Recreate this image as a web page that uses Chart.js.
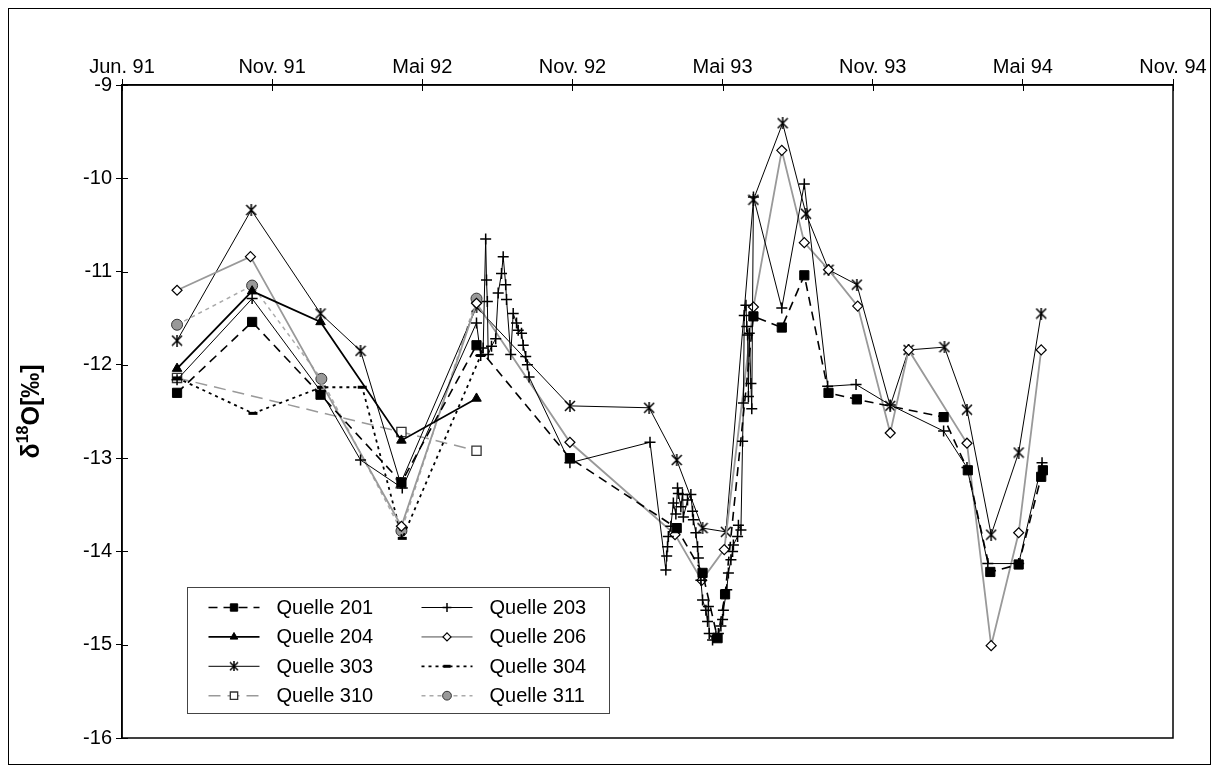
<!DOCTYPE html>
<html>
<head>
<meta charset="utf-8">
<script src="https://cdn.jsdelivr.net/npm/chart.js@4.4.1/dist/chart.umd.min.js"></script>
<style>
  html, body { margin: 0; padding: 0; background: #fff; }
  #wrap { width: 1219px; height: 773px; }
</style>
</head>
<body>
<div id="wrap"><canvas id="isoChart" width="1219" height="773"></canvas></div>
<script>
// --- x-Achse: Tage seit 1. Juni 1991, Teilung alle 180 Tage ---
const xTickLabels = ['Jun. 91', 'Nov. 91', 'Mai 92', 'Nov. 92', 'Mai 93', 'Nov. 93', 'Mai 94', 'Nov. 94'];
const yTicks = [-16, -15, -14, -13, -12, -11, -10, -9];

// --- Quelle 201 ---
const q201Days = [66, 156, 238, 335, 425, 537, 665, 696, 714, 723, 757, 791, 818, 847, 881, 985, 1014, 1041, 1075, 1102, 1104];
const q201Values = [-12.30, -11.54, -12.32, -13.26, -11.79, -13.00, -13.75, -14.23, -14.93, -14.46, -11.48, -11.60, -11.04, -12.30, -12.37, -12.56, -13.13, -14.22, -14.14, -13.20, -13.13];

// --- Quelle 203 (dichte Beprobung) ---
const q203Days = [66, 156, 238, 286, 336, 425, 430, 433, 436, 437, 438, 439, 443, 448, 451, 455, 457, 460, 461, 466, 469, 473, 475, 479, 481, 484, 486, 488,
  537, 633, 652, 653, 654, 655, 658, 661, 664, 666, 667, 670, 672, 673, 678, 682, 684, 685, 688, 690, 691, 694, 696, 700, 702, 703, 704, 708, 712, 715, 718, 720, 721,
  725, 727, 730, 732, 733, 738, 739, 742, 744, 745, 746, 748, 749, 750, 751, 752, 754, 755, 757, 791, 818, 846, 880, 921, 985, 1013, 1038, 1075, 1103];
const q203Values = [-12.16, -11.29, -12.28, -13.02, -13.32, -11.55, -11.90, -11.82, -10.65, -11.09, -11.32, -11.89, -11.80, -11.72, -11.23, -11.02, -10.84, -11.14, -11.30, -11.89, -11.45, -11.55, -11.63, -11.66, -11.79, -11.91, -12.00, -12.13,
  -13.05, -12.83, -14.20, -14.05, -13.95, -13.84, -13.73, -13.48, -13.60, -13.32, -13.38, -13.52, -13.39, -13.63, -13.45, -13.39, -13.57, -13.66, -13.80, -13.95, -14.07, -14.31, -14.52, -14.63, -14.75, -14.59, -14.88, -14.95, -14.91, -14.88, -14.80, -14.73, -14.63,
  -14.41, -14.23, -14.09, -14.00, -13.93, -13.84, -13.72, -13.77, -12.82, -12.41, -11.47, -11.36, -11.59, -11.68, -12.34, -11.66, -12.20, -12.47, -10.20, -11.39, -10.06, -12.23, -12.21, -12.43, -12.71, -13.10, -14.13, -14.13, -13.05];

// --- Quelle 204 ---
const q204Days = [66, 156, 238, 335, 425];
const q204Values = [-12.04, -11.21, -11.54, -12.81, -12.36];

// --- Quelle 206 ---
const q206Days = [66, 154, 335, 425, 537, 663, 695, 722, 757, 791, 818, 847, 882, 921, 943, 1013, 1042, 1075, 1102];
const q206Values = [-11.20, -10.84, -13.73, -11.34, -12.83, -13.82, -14.31, -13.98, -11.38, -9.70, -10.69, -10.98, -11.37, -12.73, -11.84, -12.84, -15.01, -13.80, -11.84];

// --- Quelle 303 ---
const q303Days = [66, 155, 238, 286, 334, 425, 537, 632, 665, 696, 724, 757, 792, 820, 847, 881, 921, 943, 986, 1013, 1042, 1075, 1102];
const q303Values = [-11.74, -10.34, -11.45, -11.85, -13.27, -11.38, -12.44, -12.46, -13.02, -13.75, -13.79, -10.23, -9.41, -10.38, -10.98, -11.14, -12.44, -11.84, -11.81, -12.48, -13.82, -12.94, -11.45];

// --- Quelle 304 ---
const q304Days = [66, 157, 239, 288, 336, 430];
const q304Values = [-12.14, -12.52, -12.24, -12.24, -13.86, -11.90];

// --- Quelle 310 ---
const q310Days = [66, 335, 425];
const q310Values = [-12.14, -12.72, -12.92];

// --- Quelle 311 ---
const q311Days = [66, 156, 239, 335, 425];
const q311Values = [-11.57, -11.15, -12.15, -13.78, -11.29];

const toPoints = (days, values) => days.map((d, i) => ({ x: d, y: values[i] }));

const FONT = "'Liberation Sans', Arial, sans-serif";

// Excel-Stern: X mit senkrechtem Strich
function makeAsterisk(size) {
  const c = document.createElement('canvas');
  c.width = size; c.height = size;
  const g = c.getContext('2d');
  g.strokeStyle = '#000';
  g.lineWidth = 1.5;
  g.beginPath();
  g.moveTo(1, 1); g.lineTo(size - 1, size - 1);
  g.moveTo(size - 1, 1); g.lineTo(1, size - 1);
  g.moveTo(size / 2, 0); g.lineTo(size / 2, size);
  g.stroke();
  return c;
}
const asterisk = makeAsterisk(12);
const asteriskSmall = makeAsterisk(10);

// --- Achsenrahmen, Innenstriche, Titel, Legende ---
const framePlugin = {
  id: 'frame',
  beforeDatasetsDraw(chart) {
    const { ctx, chartArea: a, scales } = chart;
    ctx.save();
    ctx.strokeStyle = '#000';
    ctx.lineWidth = 1.5;
    ctx.strokeRect(a.left, a.top, a.right - a.left, a.bottom - a.top);
    ctx.lineWidth = 1;
    scales.y.ticks.forEach(t => {
      const y = Math.round(scales.y.getPixelForValue(t.value)) + 0.5;
      ctx.beginPath(); ctx.moveTo(a.left, y); ctx.lineTo(a.left + 6, y); ctx.stroke();
    });
    scales.x.ticks.forEach(t => {
      const x = Math.round(scales.x.getPixelForValue(t.value)) + 0.5;
      ctx.beginPath(); ctx.moveTo(x, a.top); ctx.lineTo(x, a.top + 6); ctx.stroke();
    });
    // aeusserer Rahmen
    ctx.lineWidth = 1;
    ctx.strokeRect(8.5, 8.5, chart.width - 17, chart.height - 17);
    ctx.restore();
  },
  afterDraw(chart) {
    const { ctx, chartArea: a } = chart;
    ctx.save();
    // y-Titel mit Hochzahl
    const cx = 32, cy = (a.top + a.bottom) / 2;
    ctx.translate(cx, cy);
    ctx.rotate(-Math.PI / 2);
    ctx.fillStyle = '#000';
    ctx.textBaseline = 'middle';
    const big = 'bold 25px ' + FONT, small = 'bold 16px ' + FONT;
    ctx.font = big; const w1 = ctx.measureText('δ').width; const w3 = ctx.measureText('O[‰]').width;
    ctx.font = small; const w2 = ctx.measureText('18').width;
    let x = -(w1 + w2 + w3) / 2;
    ctx.font = big; ctx.textAlign = 'left'; ctx.fillText('δ', x, 0); x += w1;
    ctx.font = small; ctx.fillText('18', x, -8); x += w2;
    ctx.font = big; ctx.fillText('O[‰]', x, 0);
    ctx.restore();

    // Legende, zweispaltig
    ctx.save();
    const lx = a.left + 65.5, ly = a.bottom - 150.5, lw = 422, lh = 126;
    ctx.fillStyle = '#fff';
    ctx.fillRect(lx, ly, lw, lh);
    ctx.strokeStyle = '#444';
    ctx.lineWidth = 1;
    ctx.strokeRect(lx, ly, lw, lh);
    ctx.font = '20px ' + FONT;
    ctx.textBaseline = 'middle';
    chart.data.datasets.forEach((ds, i) => {
      const col = i % 2, row = Math.floor(i / 2);
      const x0 = lx + 21 + col * 213, x1 = x0 + 51;
      const y = ly + 20 + row * 29.4;
      ctx.save();
      ctx.strokeStyle = ds.borderColor;
      ctx.lineWidth = ds.borderWidth;
      ctx.setLineDash(ds.borderDash || []);
      ctx.beginPath(); ctx.moveTo(x0, y); ctx.lineTo(x1, y); ctx.stroke();
      ctx.setLineDash([]);
      ctx.fillStyle = ds.pointBackgroundColor;
      ctx.strokeStyle = ds.pointBorderColor;
      ctx.lineWidth = ds.pointBorderWidth;
      const style = ds.pointStyle === asterisk ? asteriskSmall : ds.pointStyle;
      Chart.helpers.drawPoint(ctx, { pointStyle: style, radius: ds.pointRadius * 0.8, rotation: 0, borderWidth: ds.pointBorderWidth }, (x0 + x1) / 2, y);
      ctx.restore();
      ctx.fillStyle = '#000';
      ctx.textAlign = 'left';
      ctx.fillText(ds.label, x1 + 17, y + 1);
    });
    ctx.restore();
  }
};

const ctx = document.getElementById('isoChart').getContext('2d');

new Chart(ctx, {
  type: 'line',
  data: {
    datasets: [
      {
        label: 'Quelle 201',
        data: toPoints(q201Days, q201Values),
        borderColor: '#000', borderWidth: 1.6, borderDash: [9, 6],
        pointStyle: 'rect', pointRadius: 6.5, pointBackgroundColor: '#000', pointBorderColor: '#000', pointBorderWidth: 1
      },
      {
        label: 'Quelle 203',
        data: toPoints(q203Days, q203Values),
        borderColor: '#000', borderWidth: 1,
        pointStyle: 'cross', pointRadius: 5.5, pointBackgroundColor: '#000', pointBorderColor: '#000', pointBorderWidth: 1.5
      },
      {
        label: 'Quelle 204',
        data: toPoints(q204Days, q204Values),
        borderColor: '#000', borderWidth: 1.8,
        pointStyle: 'triangle', pointRadius: 5.5, pointBackgroundColor: '#000', pointBorderColor: '#000', pointBorderWidth: 1
      },
      {
        label: 'Quelle 206',
        data: toPoints(q206Days, q206Values),
        borderColor: '#999', borderWidth: 1.8,
        pointStyle: 'rectRot', pointRadius: 5, pointBackgroundColor: '#fff', pointBorderColor: '#000', pointBorderWidth: 1.2
      },
      {
        label: 'Quelle 303',
        data: toPoints(q303Days, q303Values),
        borderColor: '#000', borderWidth: 1,
        pointStyle: asterisk, pointRadius: 5.5, pointBackgroundColor: '#000', pointBorderColor: '#000', pointBorderWidth: 1.5
      },
      {
        label: 'Quelle 304',
        data: toPoints(q304Days, q304Values),
        borderColor: '#000', borderWidth: 1.8, borderDash: [3, 4],
        pointStyle: 'line', pointRadius: 4.5, pointBackgroundColor: '#000', pointBorderColor: '#000', pointBorderWidth: 3
      },
      {
        label: 'Quelle 310',
        data: toPoints(q310Days, q310Values),
        borderColor: '#999', borderWidth: 1.5, borderDash: [12, 7],
        pointStyle: 'rect', pointRadius: 6.5, pointBackgroundColor: '#fff', pointBorderColor: '#333', pointBorderWidth: 1.3
      },
      {
        label: 'Quelle 311',
        data: toPoints(q311Days, q311Values),
        borderColor: '#aaa', borderWidth: 1.5, borderDash: [4, 4],
        pointStyle: 'circle', pointRadius: 5.5, pointBackgroundColor: '#999', pointBorderColor: '#333', pointBorderWidth: 1
      }
    ]
  },
  options: {
    responsive: false,
    animation: false,
    devicePixelRatio: 1,
    layout: { padding: { left: 12, top: 9, right: 46, bottom: 35 } },
    elements: { line: { tension: 0, fill: false } },
    plugins: {
      legend: { display: false },
      tooltip: { enabled: false },
      title: { display: false }
    },
    scales: {
      x: {
        type: 'linear',
        position: 'top',
        min: 0,
        max: 1260,
        afterFit: (scale) => { scale.height = 76; },
        afterBuildTicks: (scale) => { scale.ticks = xTickLabels.map((_, i) => ({ value: i * 180 })); },
        ticks: {
          callback: (v) => xTickLabels[Math.round(v / 180)],
          color: '#000',
          font: { family: FONT, size: 20 },
          maxRotation: 0,
          autoSkip: false,
          padding: 0
        },
        grid: { drawOnChartArea: false, drawTicks: true, tickLength: 6, color: '#000' },
        border: { display: true, color: '#000', width: 1.5 }
      },
      y: {
        type: 'linear',
        position: 'left',
        min: -16,
        max: -9,
        afterFit: (scale) => { scale.width = 110; },
        afterBuildTicks: (scale) => { scale.ticks = yTicks.map(v => ({ value: v })); },
        ticks: {
          color: '#000',
          font: { family: FONT, size: 20 },
          padding: 4
        },
        grid: { drawOnChartArea: false, drawTicks: true, tickLength: 6, color: '#000' },
        border: { display: true, color: '#000', width: 1.5 }
      }
    }
  },
  plugins: [framePlugin]
});
</script>
</body>
</html>
